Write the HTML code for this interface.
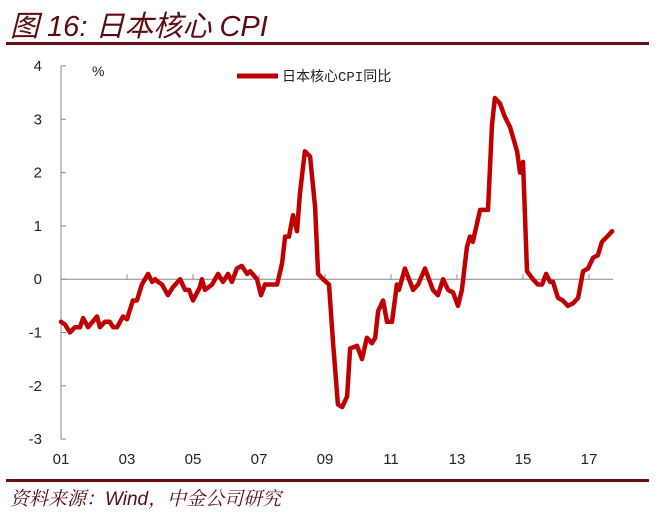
<!DOCTYPE html>
<html><head><meta charset="utf-8">
<style>
body{margin:0;background:#fff;}
#wrap{position:relative;width:663px;height:523px;overflow:hidden;font-family:"Liberation Sans","Noto Sans CJK SC",sans-serif;}
.title{position:absolute;left:10px;top:3px;font-size:29px;font-style:italic;color:#5a0c10;white-space:nowrap;}
.src{position:absolute;left:10px;top:484px;font-size:19px;font-style:italic;color:#5a0c10;white-space:nowrap;font-family:"Liberation Sans","Noto Serif CJK SC",serif;}
.rule{position:absolute;left:6px;width:643px;height:3px;background:#6b0f12;}
</style></head>
<body>
<div id="wrap">
<div class="title">图 16: 日本核心 CPI</div>
<div class="rule" style="top:42px"></div>
<div class="rule" style="top:479px"></div>
<div class="src">资料来源：Wind，中金公司研究</div>
<svg id="chart" width="663" height="523" style="position:absolute;left:0;top:0"></svg>
</div>
<script>
const yTicks=[4,3,2,1,0,-1,-2,-3];
const xTickLabels=["01","03","05","07","09","11","13","15","17"];
const xTickYears=[2001,2003,2005,2007,2009,2011,2013,2015,2017];
const dates=[0.00,0.12,0.27,0.42,0.58,0.67,0.82,1.09,1.18,1.33,1.48,1.58,1.70,1.88,2.00,2.18,2.30,2.45,2.64,2.76,2.85,2.94,3.06,3.24,3.39,3.61,3.76,3.88,4.00,4.21,4.27,4.36,4.58,4.76,4.91,5.06,5.18,5.33,5.48,5.64,5.73,5.94,6.06,6.18,6.55,6.70,6.79,6.91,7.03,7.15,7.24,7.39,7.55,7.70,7.79,7.94,8.12,8.24,8.39,8.52,8.67,8.76,8.97,9.12,9.27,9.42,9.52,9.61,9.76,9.88,10.03,10.18,10.24,10.42,10.67,10.82,11.03,11.27,11.42,11.58,11.73,11.88,12.03,12.15,12.30,12.39,12.48,12.70,12.94,13.06,13.15,13.30,13.45,13.61,13.82,13.91,14.00,14.12,14.30,14.45,14.58,14.70,14.82,14.91,15.06,15.21,15.36,15.52,15.67,15.82,15.97,16.12,16.27,16.39,16.55,16.70];
const values=[-0.8,-0.85,-1.0,-0.9,-0.9,-0.73,-0.9,-0.7,-0.9,-0.8,-0.8,-0.9,-0.9,-0.7,-0.75,-0.4,-0.4,-0.1,0.1,-0.05,0,-0.05,-0.1,-0.3,-0.15,0.0,-0.2,-0.2,-0.4,-0.15,0.0,-0.2,-0.1,0.1,-0.05,0.1,-0.05,0.2,0.25,0.1,0.15,0,-0.3,-0.1,-0.1,0.3,0.8,0.8,1.2,0.9,1.6,2.4,2.3,1.35,0.1,0,-0.1,-1.15,-2.35,-2.4,-2.2,-1.3,-1.25,-1.5,-1.1,-1.2,-1.1,-0.6,-0.4,-0.8,-0.8,-0.1,-0.2,0.2,-0.2,-0.1,0.2,-0.2,-0.3,0,-0.2,-0.25,-0.5,-0.2,0.6,0.8,0.7,1.3,1.3,2.9,3.4,3.3,3.05,2.85,2.4,2.0,2.2,0.15,0,-0.1,-0.1,0.1,-0.05,-0.05,-0.35,-0.4,-0.5,-0.45,-0.35,0.15,0.2,0.4,0.45,0.7,0.8,0.9];
const NS="http://www.w3.org/2000/svg";
const svg=document.getElementById('chart');
const x0=61,pxPerYear=33,y4=66,pxPerUnit=53.3;
function xs(t){return x0+t*pxPerYear;}
function xYear(y){return x0+(y-2001)*pxPerYear;}
function ys(v){return y4+(4-v)*pxPerUnit;}
function mk(tag,attrs){const e=document.createElementNS(NS,tag);for(const k in attrs)e.setAttribute(k,attrs[k]);svg.appendChild(e);return e;}
let a=mk('line',{x1:x0,y1:ys(4),x2:x0,y2:ys(-3),stroke:'#888','stroke-width':1});


yTicks.forEach(v=>{
 let t=mk('line',{x1:x0,y1:ys(v),x2:x0+5,y2:ys(v),stroke:'#888','stroke-width':1});
 
 
 let l=mk('text',{x:42,y:ys(v)+5,'text-anchor':'end','font-size':15,fill:'#222','font-family':'Liberation Sans, sans-serif'});
 l.textContent=String(v);
 
 
});
let z=mk('line',{x1:x0,y1:ys(0),x2:613,y2:ys(0),stroke:'#888','stroke-width':1});


xTickYears.forEach((yr,i)=>{
 if(i>0){let t=mk('line',{x1:xYear(yr),y1:ys(0),x2:xYear(yr),y2:ys(0)-5,stroke:'#888','stroke-width':1});
 
 }
 let l=mk('text',{x:xYear(yr),y:464,'text-anchor':'middle','font-size':15,fill:'#222','font-family':'Liberation Sans, sans-serif'});
 l.textContent=xTickLabels[i];
 
 
});
let u=mk('text',{x:92,y:76,'font-size':14,fill:'#222','font-family':'Liberation Sans, sans-serif'});
u.textContent='%';


let pts=dates.map((d,i)=>xs(d).toFixed(1)+','+ys(values[i]).toFixed(1)).join(' ');
let p=mk('polyline',{points:pts,fill:'none',stroke:'#c00000','stroke-width':4.5,'stroke-linejoin':'round','stroke-linecap':'round'});


let lg=mk('line',{x1:237,y1:76,x2:278,y2:76,stroke:'#c00000','stroke-width':5});


let lt=mk('text',{x:282,y:81,'font-size':14,fill:'#222','font-family':'Liberation Mono, Noto Sans CJK SC, monospace'});
lt.textContent='日本核心CPI同比';


</script>
</body></html>
